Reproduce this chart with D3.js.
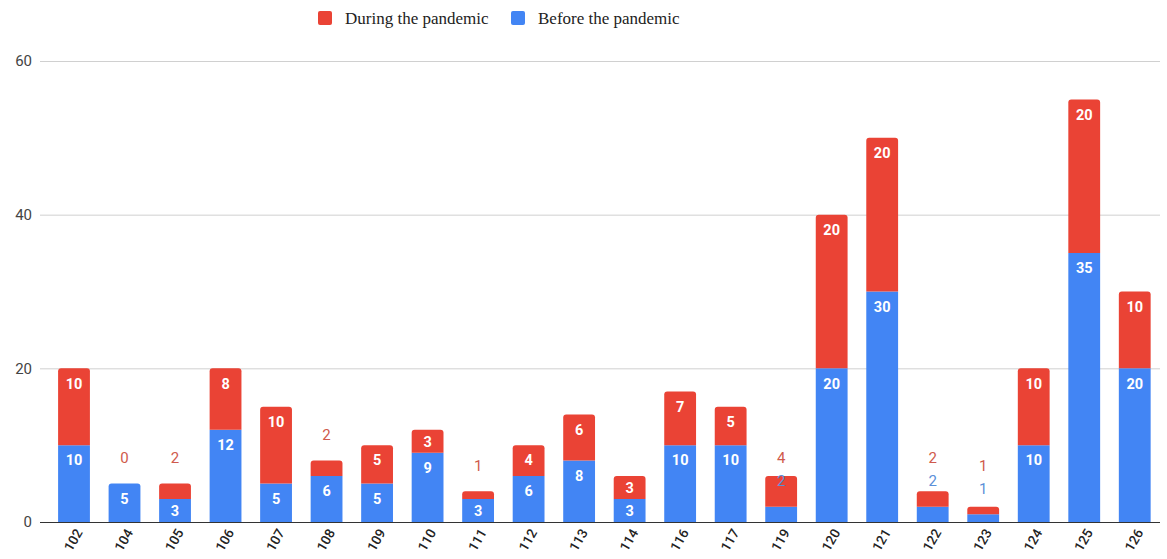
<!DOCTYPE html>
<html>
<head>
<meta charset="utf-8">
<script src="https://cdn.jsdelivr.net/npm/d3@7"></script>
<style>
  html, body { margin: 0; padding: 0; background: #fff; }
  svg { display: block; }
</style>
</head>
<body>
<svg id="chart" width="1167" height="559"></svg>
<script>
const categories = ["102","104","105","106","107","108","109","110","111","112","113","114","116","117","119","120","121","122","123","124","125","126"];
const beforeValues = [10,5,3,12,5,6,5,9,3,6,8,3,10,10,2,20,30,2,1,10,35,20];
const duringValues = [10,0,2,8,10,2,5,3,1,4,6,3,7,5,4,20,20,2,1,10,20,10];
const yTicks = [0,20,40,60];
const seriesNames = ["Before the pandemic","During the pandemic"];
const legendOrder = ["During the pandemic","Before the pandemic"];
const colors = {"Before the pandemic":"#4285f4","During the pandemic":"#ea4335"};
const outsideColors = {"Before the pandemic":"#5b8fd8","During the pandemic":"#cf5a4c"};

const svg = d3.select("#chart");
const x = d3.scaleBand().domain(categories).range([48.75, 1160]).paddingInner(0.37).paddingOuter(0.185);
const y = d3.scaleLinear().domain([0, 60]).range([522, 61]);

// gridlines
svg.append("g").selectAll("line").data(yTicks.filter(t => t > 0)).join("line")
  .attr("x1", 40).attr("x2", 1160)
  .attr("y1", d => y(d) + 0.5).attr("y2", d => y(d) + 0.5)
  .attr("stroke", "#d0d0d0").attr("stroke-width", 1);

// y tick labels
svg.append("g").selectAll("text").data(yTicks).join("text")
  .attr("x", 32).attr("y", d => y(d)).attr("dy", "0.35em")
  .attr("text-anchor", "end")
  .attr("font-family", "Roboto, Arial, sans-serif").attr("font-size", 15)
  .attr("fill", "#444").text(d => d);

// stack data
const rows = categories.map((c, i) => ({cat: c, "Before the pandemic": beforeValues[i], "During the pandemic": duringValues[i]}));
const stack = d3.stack().keys(seriesNames)(rows);

function topRoundedRect(x0, y0, w, h, r) {
  r = Math.min(r, h / 2, w / 2);
  if (h <= 0) return "";
  return `M${x0},${y0 + h}V${y0 + r}Q${x0},${y0} ${x0 + r},${y0}H${x0 + w - r}Q${x0 + w},${y0} ${x0 + w},${y0 + r}V${y0 + h}Z`;
}

const bars = svg.append("g");
stack.forEach((layer, li) => {
  const key = layer.key;
  layer.forEach((d, i) => {
    const v = d[1] - d[0];
    if (v <= 0) return;
    let isTop = true;
    for (let k = li + 1; k < stack.length; k++) if (stack[k][i][1] - stack[k][i][0] > 0) isTop = false;
    const x0 = x(categories[i]), w = x.bandwidth();
    const yTop = y(d[1]), h = y(d[0]) - y(d[1]);
    bars.append("path")
      .attr("d", topRoundedRect(x0, yTop, w, h, isTop ? 3 : 0))
      .attr("fill", colors[key]);
  });
});

// baseline
svg.append("line").attr("x1", 40).attr("x2", 1160).attr("y1", y(0) + 0.5).attr("y2", y(0) + 0.5)
  .attr("stroke", "#333").attr("stroke-width", 1.2);

// value labels
const labels = svg.append("g").attr("font-family", "Roboto, Arial, sans-serif");
categories.forEach((c, i) => {
  let prevOutsideY = null;
  stack.forEach(layer => {
    const d = layer[i];
    const key = layer.key;
    const v = d[1] - d[0];
    const yTop = y(d[1]), h = y(d[0]) - y(d[1]);
    const cx = x(c) + x.bandwidth() / 2;
    if (h >= 20 && prevOutsideY === null) {
      labels.append("text")
        .attr("x", cx).attr("y", yTop + Math.min(15, h / 2)).attr("dy", "0.36em")
        .attr("text-anchor", "middle").attr("font-size", 14.5).attr("font-weight", "bold")
        .attr("fill", "#fff").text(v);
    } else {
      const ly = prevOutsideY === null ? yTop - 26 : prevOutsideY - 23;
      prevOutsideY = ly;
      labels.append("text")
        .attr("x", cx).attr("y", ly).attr("dy", "0.36em")
        .attr("text-anchor", "middle").attr("font-size", 15)
        .attr("fill", outsideColors[key]).text(v);
    }
  });
});

// x axis labels (rotated)
svg.append("g").selectAll("text").data(categories).join("text")
  .attr("transform", d => `translate(${x(d) + x.bandwidth() / 2 + 5},${y(0) + 8}) rotate(-60)`)
  .attr("text-anchor", "end").attr("dy", "0.35em")
  .attr("font-family", "Roboto, Arial, sans-serif").attr("font-size", 13.5).attr("font-weight", 500)
  .attr("fill", "#222").text(d => d);

// legend
const legend = svg.append("g").attr("font-family", "'Liberation Serif', 'Times New Roman', serif").attr("font-size", 17);
const legendX = [318, 511];
legendOrder.forEach((name, k) => {
  const g = legend.append("g").attr("transform", `translate(${legendX[k]},11)`);
  g.append("rect").attr("width", 14).attr("height", 14).attr("rx", 2).attr("fill", colors[name]);
  g.append("text").attr("x", 27).attr("y", 7).attr("dy", "0.35em").attr("fill", "#222").text(name);
});
</script>
</body>
</html>
